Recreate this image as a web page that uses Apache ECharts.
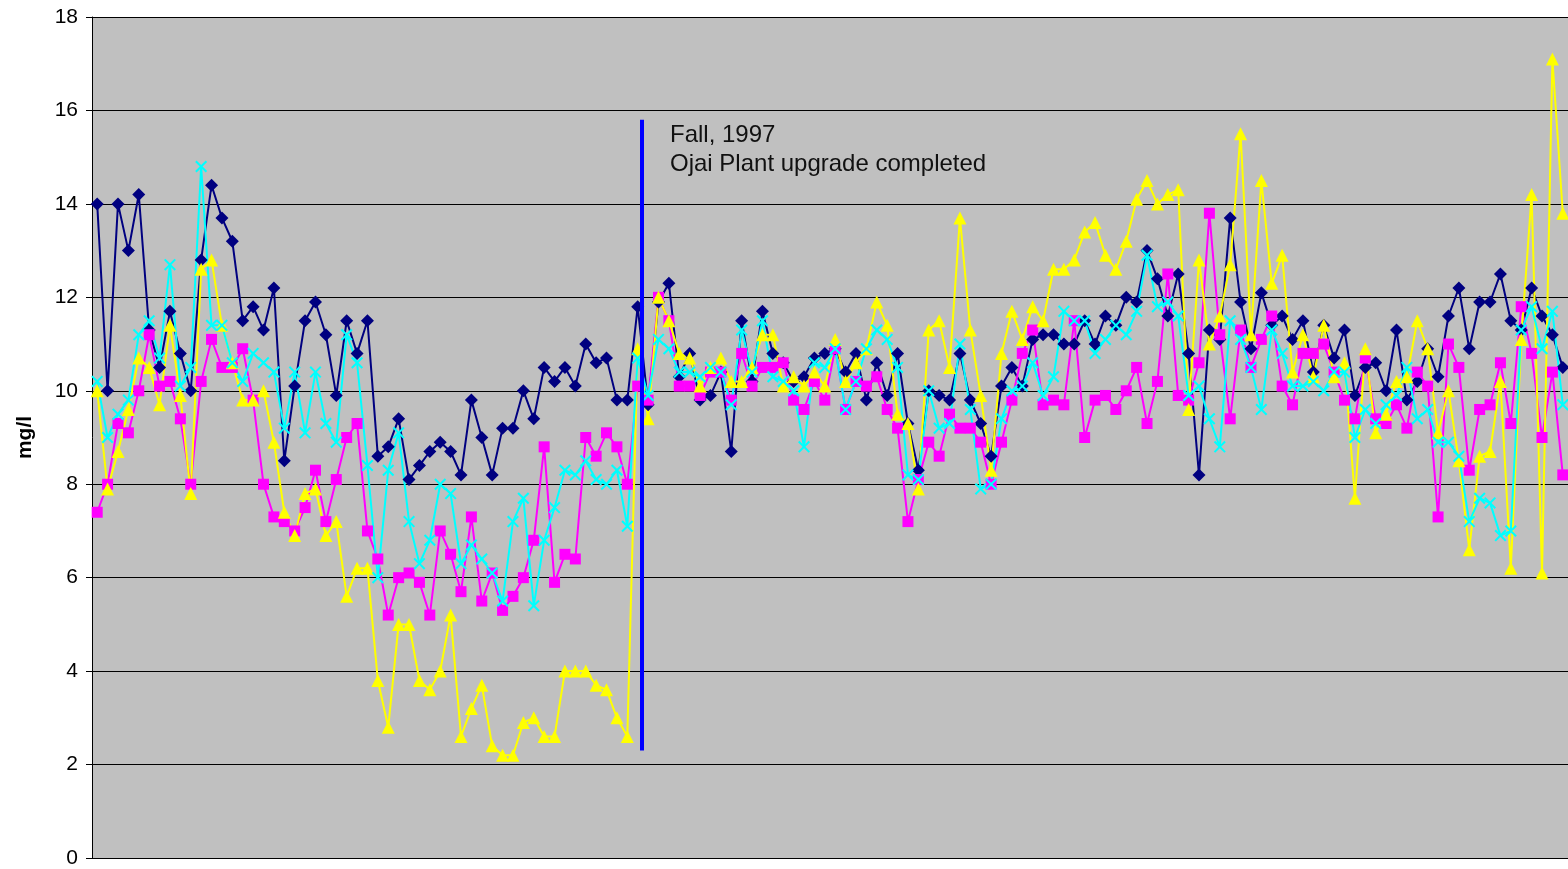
<!DOCTYPE html>
<html>
<head>
<meta charset="utf-8">
<script src="https://cdn.jsdelivr.net/npm/echarts@6/dist/echarts.min.js"></script>
<style>
  html, body { margin: 0; padding: 0; background: #fff; }
  #chart { width: 1568px; height: 869px; }
</style>
</head>
<body>
<div id="chart"></div>
<script>
// dissolved oxygen, one value per sampling date (142 samples, x labels not shown)
const navy = [14.0,10.0,14.0,13.0,14.2,11.3,10.5,11.7,10.8,10.0,
  12.8,14.4,13.7,13.2,11.5,11.8,11.3,12.2,8.5,10.1,
  11.5,11.9,11.2,9.9,11.5,10.8,11.5,8.6,8.8,9.4,
  8.1,8.4,8.7,8.9,8.7,8.2,9.8,9.0,8.2,9.2,
  9.2,10.0,9.4,10.5,10.2,10.5,10.1,11.0,10.6,10.7,
  9.8,9.8,11.8,9.7,11.9,12.3,10.3,10.8,9.8,9.9,
  10.4,8.7,11.5,10.2,11.7,10.8,10.6,10.2,10.3,10.7,
  10.8,10.9,10.4,10.8,9.8,10.6,9.9,10.8,9.3,8.3,
  10.0,9.9,9.8,10.8,9.8,9.3,8.6,10.1,10.5,10.1,
  11.1,11.2,11.2,11.0,11.0,11.5,11.0,11.6,11.4,12.0,
  11.9,13.0,12.4,11.6,12.5,10.8,8.2,11.3,11.1,13.7,
  11.9,10.9,12.1,11.4,11.6,11.1,11.5,10.4,11.4,10.7,
  11.3,9.9,10.5,10.6,10.0,11.3,9.8,10.2,10.9,10.3,
  11.6,12.2,10.9,11.9,11.9,12.5,11.5,11.3,12.2,11.6,
  11.2,10.5];

const magenta = [7.4,8.0,9.3,9.1,10.0,11.2,10.1,10.2,9.4,8.0,
  10.2,11.1,10.5,10.5,10.9,9.8,8.0,7.3,7.2,7.0,
  7.5,8.3,7.2,8.1,9.0,9.3,7.0,6.4,5.2,6.0,
  6.1,5.9,5.2,7.0,6.5,5.7,7.3,5.5,6.1,5.3,
  5.6,6.0,6.8,8.8,5.9,6.5,6.4,9.0,8.6,9.1,
  8.8,8.0,10.1,9.8,12.0,11.5,10.1,10.1,9.9,10.4,
  10.4,9.8,10.8,10.1,10.5,10.5,10.6,9.8,9.6,10.2,
  9.8,10.9,9.6,10.2,10.1,10.3,9.6,9.2,7.2,8.1,
  8.9,8.6,9.5,9.2,9.2,8.9,8.0,8.9,9.8,10.8,
  11.3,9.7,9.8,9.7,11.5,9.0,9.8,9.9,9.6,10.0,
  10.5,9.3,10.2,12.5,9.9,9.8,10.6,13.8,11.2,9.4,
  11.3,10.5,11.1,11.6,10.1,9.7,10.8,10.8,11.0,10.4,
  9.8,9.4,10.7,9.4,9.3,9.7,9.2,10.4,10.1,7.3,
  11.0,10.5,8.3,9.6,9.7,10.6,9.3,11.8,10.8,9.0,
  10.4,8.2];

const yellow = [10.0,7.9,8.7,9.6,10.7,10.5,9.7,11.4,9.9,7.8,
  12.6,12.8,11.4,10.6,9.8,9.8,10.0,8.9,7.4,6.9,
  7.8,7.9,6.9,7.2,5.6,6.2,6.2,3.8,2.8,5.0,
  5.0,3.8,3.6,4.0,5.2,2.6,3.2,3.7,2.4,2.2,
  2.2,2.9,3.0,2.6,2.6,4.0,4.0,4.0,3.7,3.6,
  3.0,2.6,10.9,9.4,12.0,11.5,10.8,10.7,10.1,10.5,
  10.7,10.2,10.2,10.5,11.2,11.2,10.1,10.3,10.1,10.4,
  10.1,11.1,10.2,10.6,10.9,11.9,11.4,9.5,9.3,7.9,
  11.3,11.5,10.5,13.7,11.3,9.9,8.3,10.8,11.7,11.1,
  11.8,11.5,12.6,12.6,12.8,13.4,13.6,12.9,12.6,13.2,
  14.1,14.5,14.0,14.2,14.3,9.6,12.8,11.0,11.6,12.7,
  15.5,11.2,14.5,12.3,12.9,10.4,11.2,10.3,11.4,10.3,
  10.6,7.7,10.9,9.1,9.5,10.2,10.3,11.5,10.9,9.1,
  10.0,8.5,6.6,8.6,8.7,10.2,6.2,11.1,14.2,6.1,
  17.1,13.8];

const cyan = [10.2,9.0,9.5,9.8,11.2,11.5,10.7,12.7,10.1,10.5,
  14.8,11.4,11.4,10.6,10.2,10.8,10.6,10.4,9.2,10.4,
  9.1,10.4,9.3,8.9,11.2,10.6,8.4,6.0,8.3,9.1,
  7.2,6.3,6.8,8.0,7.8,6.3,6.7,6.4,6.1,5.5,
  7.2,7.7,5.4,6.8,7.5,8.3,8.2,8.5,8.1,8.0,
  8.3,7.1,10.7,9.9,11.1,10.9,10.4,10.4,10.3,10.5,
  10.4,9.7,11.3,10.4,11.5,10.3,10.2,10.0,8.8,10.6,
  10.5,10.9,9.6,10.2,10.9,11.3,11.1,10.5,8.2,8.1,
  10.0,9.2,9.3,11.0,9.6,7.9,8.0,9.4,10.0,10.1,
  10.6,9.9,10.3,11.7,11.5,11.5,10.8,11.1,11.4,11.2,
  11.7,12.9,11.8,11.9,11.6,9.9,10.1,9.4,8.8,11.5,
  11.1,10.5,9.6,11.3,10.8,10.1,10.1,10.2,10.0,10.4,
  10.4,9.0,9.6,9.3,9.7,9.9,10.5,9.4,9.6,8.9,
  8.9,8.6,7.2,7.7,7.6,6.9,7.0,11.3,11.8,10.9,
  11.7,9.7];

const samples = navy.map((v, i) => String(i + 1));
const yTicks = { min: 0, max: 18, interval: 2 };

// plant upgrade marker: sample position and vertical extent (mg/l)
const upgradeAt = 52.4;
const upgradeSpan = [2.3, 15.8];
const upgradeText = "Fall, 1997\nOjai Plant upgrade completed";

const xMark = "path://M0,1.2L1.2,0L5,3.8L8.8,0L10,1.2L6.2,5L10,8.8L8.8,10L5,6.2L1.2,10L0,8.8L3.8,5Z";

let myChart = echarts.init(document.getElementById("chart"));

function lineSeries(name, data, color, symbol, size) {
  return {
    name: name,
    type: "line",
    data: data,
    symbol: symbol,
    symbolSize: size,
    showAllSymbol: true,
    lineStyle: { color: color, width: 2 },
    itemStyle: { color: color },
    animation: false
  };
}

let option = {
  animation: false,
  textStyle: { fontFamily: "Liberation Sans, Arial, sans-serif" },
  grid: {
    left: 92,
    right: 0,
    top: 17,
    bottom: 11,
    show: true,
    backgroundColor: "#C0C0C0",
    borderWidth: 0,
    outerBoundsMode: "none"
  },
  xAxis: [
    {
      type: "category",
      data: samples,
      boundaryGap: true,
      axisLine: { show: true, lineStyle: { color: "#000", width: 1 } },
      axisTick: { show: false },
      axisLabel: { show: false },
      splitLine: { show: false }
    },
    {
      // hidden helper axis so the upgrade line can sit between samples
      type: "value",
      min: -0.5,
      max: samples.length - 0.5,
      show: false
    }
  ],
  yAxis: {
    type: "value",
    min: yTicks.min,
    max: yTicks.max,
    interval: yTicks.interval,
    name: "mg/l",
    nameLocation: "middle",
    nameGap: 56,
    nameTextStyle: { fontSize: 21, fontWeight: "bold", color: "#000" },
    axisLine: { show: true, onZero: false, lineStyle: { color: "#000", width: 1 } },
    axisTick: { show: true, length: 6, lineStyle: { color: "#000" } },
    axisLabel: { fontSize: 21, color: "#000", margin: 14 },
    splitLine: { show: true, lineStyle: { color: "#000", width: 1 } }
  },
  graphic: [
    {
      type: "text",
      left: 670,
      top: 121,
      style: {
        text: upgradeText,
        font: "24px Liberation Sans, Arial, sans-serif",
        fill: "#111",
        lineHeight: 29
      }
    }
  ],
  series: [
    lineSeries("Site 1", navy, "#000080", "diamond", 13),
    lineSeries("Site 2", magenta, "#FF00FF", "rect", 11),
    lineSeries("Site 3", yellow, "#FFFF00", "triangle", 13),
    lineSeries("Site 4", cyan, "#00FFFF", xMark, 12),
    {
      name: "upgrade",
      type: "line",
      xAxisIndex: 1,
      data: [],
      markLine: {
        silent: true,
        symbol: ["none", "none"],
        label: { show: false },
        lineStyle: { color: "#0000FF", width: 4, type: "solid" },
        data: [[
          { coord: [upgradeAt, upgradeSpan[0]] },
          { coord: [upgradeAt, upgradeSpan[1]] }
        ]]
      }
    }
  ]
};

myChart.setOption(option);
window.addEventListener("resize", () => myChart.resize());
</script>
</body>
</html>
